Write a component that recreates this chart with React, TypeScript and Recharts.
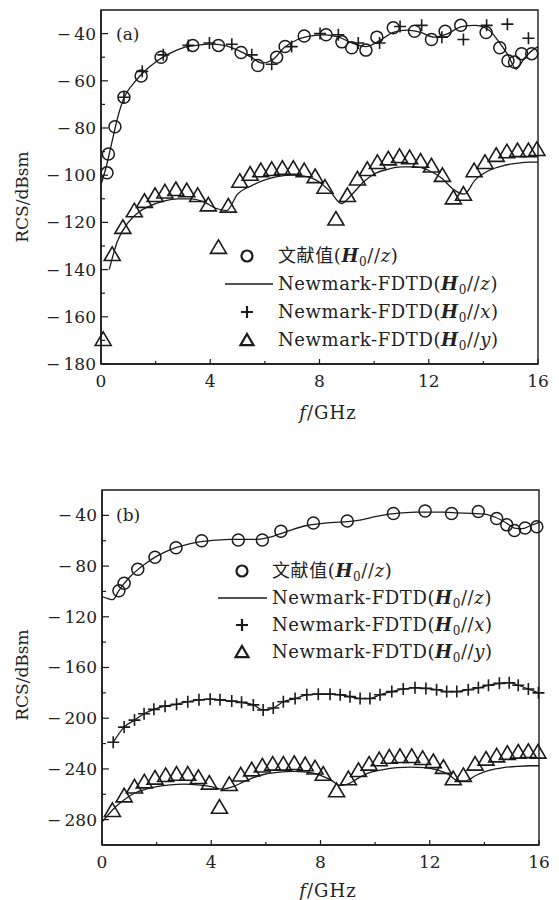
import React from 'react';
import { ComposedChart, Line, Scatter, XAxis, YAxis, ReferenceArea } from 'recharts';

const FONT = "'DejaVu Serif', 'Noto Sans CJK SC', serif";
const INK = '#1a1a1a';

// ---- panel (a) ----
const aRefFreq = [0.22, 0.27, 0.51, 0.84, 1.47, 2.2, 3.36, 4.3, 5.13, 5.74, 6.43, 6.74, 7.44, 8.24, 8.82, 9.18, 9.7, 10.1, 10.7, 11.48, 12.1, 12.6, 13.17, 14.1, 14.6, 14.9, 15.14, 15.4, 15.77];
const aRefRcs = [-99, -91, -79.5, -67, -58, -50, -45, -45, -48, -53.5, -50, -45.5, -41, -40.5, -43.5, -46, -47, -41.5, -37.5, -39, -42.5, -39, -36.5, -39.5, -46, -51.5, -52, -48.5, -48.5];

const aZFreq = [0, 0.2, 0.4, 0.6, 0.85, 1.2, 1.5, 2.0, 2.5, 3.0, 3.5, 4.0, 4.5, 5.0, 5.5, 5.9, 6.3, 6.7, 7.2, 7.7, 8.2, 8.7, 9.2, 9.7, 10.2, 10.7, 11.2, 11.7, 12.2, 12.7, 13.2, 13.7, 14.2, 14.6, 14.9, 15.2, 15.5, 15.8, 16];
const aZRcs = [-104, -96, -86, -76, -67, -61, -57, -52, -48.5, -46, -45, -44.5, -45, -47, -50, -52.5, -51, -46, -42.5, -41, -40.5, -41.5, -44, -45.5, -43, -39.5, -38.5, -39.5, -41.5, -40, -37, -36.5, -38.5, -44, -49, -55, -50.5, -47, -45.5];

const aXFreq = [0.84, 1.51, 2.28, 3.2, 3.97, 4.79, 5.52, 6.25, 6.98, 8.02, 8.69, 9.42, 10.2, 10.95, 11.74, 12.48, 13.27, 14.12, 14.88, 15.65];
const aXRcs = [-67, -56, -49, -45, -44, -44.5, -49, -53, -45.5, -40, -40.5, -44, -44, -37, -36.5, -41.5, -42.5, -36.5, -36, -42];

const aYFreq = [0.08, 0.41, 0.8, 1.22, 1.59, 1.98, 2.34, 2.74, 3.14, 3.54, 3.93, 4.3, 4.66, 5.08, 5.46, 5.85, 6.25, 6.64, 7.04, 7.44, 7.84, 8.2, 8.6, 9.02, 9.39, 9.75, 10.12, 10.52, 10.93, 11.3, 11.7, 12.1, 12.5, 12.9, 13.27, 13.66, 14.06, 14.47, 14.86, 15.25, 15.65, 15.96];
const aYRcs = [-170, -134, -122.5, -115.5, -111.5, -109, -107.5, -106.5, -107, -109, -113, -131, -113.5, -103, -100, -98.5, -98, -97.5, -97.5, -98.5, -101, -105.5, -119, -109, -102, -98, -95, -93.5, -92.5, -93, -94.5, -96.5, -100.5, -110, -108.5, -98.5, -95, -92, -90.5, -90, -90, -89.5];

const aYLineFreq = [0.3, 0.6, 1.0, 1.4, 1.8, 2.3, 2.8, 3.3, 3.8, 4.2, 4.6, 5.0, 5.5, 6.0, 6.5, 7.0, 7.5, 8.0, 8.4, 8.8, 9.2, 9.6, 10.0, 10.5, 11.0, 11.5, 12.0, 12.5, 12.9, 13.3, 13.7, 14.2, 14.7, 15.2, 15.7, 16];
const aYLineRcs = [-140, -128, -120, -115.5, -113, -111, -110, -110, -111.5, -114, -115, -108, -104.5, -102, -100.5, -100, -100.5, -103, -107, -112, -108, -103, -99.5, -97.5, -96.5, -96.5, -98, -101.5, -106, -108, -102, -98, -96, -95, -94.5, -94.5];

// ---- panel (b) ----
const bRefFreq = [0.62, 0.81, 1.31, 1.94, 2.71, 3.65, 4.99, 5.87, 6.55, 7.74, 8.98, 10.67, 11.83, 12.8, 13.78, 14.45, 14.82, 15.1, 15.49, 15.92];
const bRefRcs = [-99.5, -93.5, -82.5, -73, -65.5, -60, -59.5, -59.5, -52.5, -46, -44.5, -38.5, -36.5, -38.5, -37, -42.5, -47.5, -52, -50, -49];

const bZFreq = [0, 0.2, 0.4, 0.6, 0.8, 1.0, 1.3, 1.6, 1.9, 2.3, 2.7, 3.2, 3.7, 4.2, 4.7, 5.2, 5.7, 6.2, 6.6, 7.0, 7.5, 8.0, 8.5, 9.0, 9.5, 10.0, 10.5, 11.0, 11.5, 12.0, 12.5, 13.0, 13.5, 14.0, 14.4, 14.8, 15.1, 15.4, 15.7, 16];
const bZRcs = [-104, -105.5, -106.5, -100, -94, -89, -83, -78, -73.5, -69, -65.5, -62.5, -60.5, -59.5, -59, -59, -59, -57, -54, -51, -48, -46.5, -45.5, -45, -43.5, -41, -39, -38, -37.5, -37.5, -37.5, -38, -38.5, -39, -41.5, -46, -50, -50.5, -48, -45.5];

const bXFreq = [0.41, 0.81, 1.19, 1.54, 1.9, 2.31, 2.73, 3.14, 3.55, 3.96, 4.32, 4.75, 5.11, 5.54, 5.9, 6.27, 6.64, 7.07, 7.5, 7.92, 8.35, 8.72, 9.08, 9.45, 9.81, 10.18, 10.61, 11.03, 11.46, 11.86, 12.25, 12.62, 12.99, 13.41, 13.78, 14.15, 14.55, 14.91, 15.24, 15.61, 15.98];
const bXRcs = [-219, -207, -201.5, -196.5, -193, -190.5, -189, -187, -185.5, -185, -185.5, -186.5, -187.5, -189.5, -193.5, -192, -187, -184.5, -181.5, -181, -181, -181.5, -183, -184.5, -184.5, -181.5, -179, -177, -176, -176.5, -177.5, -179, -179, -177.5, -176, -174, -172.5, -172, -174, -177, -180];

const bYFreq = [0.38, 0.81, 1.19, 1.55, 1.94, 2.33, 2.73, 3.14, 3.53, 3.93, 4.3, 4.66, 5.08, 5.48, 5.87, 6.25, 6.64, 7.04, 7.44, 7.8, 8.1, 8.59, 9.02, 9.39, 9.78, 10.15, 10.52, 10.91, 11.34, 11.74, 12.13, 12.5, 12.86, 13.23, 13.66, 14.06, 14.45, 14.84, 15.24, 15.61, 15.96];
const bYRcs = [-273.5, -262, -255, -251, -248, -246, -245, -245, -247.5, -252, -271, -253, -245.5, -241.5, -238.5, -237, -237, -236.5, -237.5, -240, -245, -258, -248.5, -242, -237, -233.5, -231.5, -231, -231, -232.5, -235, -239.5, -248.5, -246, -237, -233, -230.5, -228.5, -227.5, -227, -227.5];

const bYLineFreq = [0, 0.4, 0.8, 1.2, 1.6, 2.0, 2.5, 3.0, 3.5, 4.0, 4.4, 4.8, 5.2, 5.6, 6.0, 6.5, 7.0, 7.5, 8.0, 8.4, 8.7, 9.0, 9.4, 9.8, 10.3, 10.8, 11.3, 11.8, 12.3, 12.7, 13.0, 13.3, 13.7, 14.2, 14.7, 15.2, 15.7, 16];
const bYLineRcs = [-282, -272, -264.5, -259, -256, -254, -252.5, -252, -252.5, -254, -256, -254, -250, -246.5, -244, -242.5, -242, -242.5, -245, -249, -253, -252, -247, -243, -240.5, -239, -238.5, -239, -241, -244.5, -249, -249.5, -245, -241, -239, -238, -237.5, -237.5];

// ---- axes ----
const xTicks = [0, 2, 4, 6, 8, 10, 12, 14, 16];
const xTickLabels = [0, 4, 8, 12, 16];
const aYTicks = [-180, -170, -160, -150, -140, -130, -120, -110, -100, -90, -80, -70, -60, -50, -40];
const aYTickLabels = [-180, -160, -140, -120, -100, -80, -60, -40];
const bYTicks = [-280, -260, -240, -220, -200, -180, -160, -140, -120, -100, -80, -60, -40];
const bYTickLabels = [-280, -240, -200, -160, -120, -80, -40];

const pts = (fs: number[], vs: number[]) => fs.map((f, i) => ({ f, v: vs[i] }));

const fmt = (v: number) => (v < 0 ? `\u2212\u2009${Math.abs(v)}` : `${v}`);

function Ring({ cx, cy, r = 6, w = 1.5 }: any) {
  return <circle cx={cx} cy={cy} r={r} fill="none" stroke={INK} strokeWidth={w} />;
}
function Cross({ cx, cy, s = 6, w = 1.6 }: any) {
  return <path d={`M${cx - s},${cy}h${2 * s}M${cx},${cy - s}v${2 * s}`} fill="none" stroke={INK} strokeWidth={w} />;
}
function Tri({ cx, cy, s = 8, w = 1.6 }: any) {
  const h = s * 1.7;
  return (
    <path
      d={`M${cx},${cy - h * 0.63}L${cx + s},${cy + h * 0.37}L${cx - s},${cy + h * 0.37}Z`}
      fill="none"
      stroke={INK}
      strokeWidth={w}
    />
  );
}

function makeYTick(labels: number[]) {
  return (p: any) => {
    const v = p.payload.value;
    const major = labels.includes(v);
    return (
      <g>
        <line x1={p.x} x2={p.x + (major ? 7 : 4)} y1={p.y} y2={p.y} stroke={INK} strokeWidth={1.2} />
        {major && (
          <text x={p.x - 5} y={p.y} dy="0.35em" textAnchor="end" fontFamily={FONT} fontSize={17} fill="#222">
            {fmt(v)}
          </text>
        )}
      </g>
    );
  };
}

function makeXTick(labels: number[]) {
  return (p: any) => {
    const v = p.payload.value;
    const major = labels.includes(v);
    return (
      <g>
        <line x1={p.x} x2={p.x} y1={p.y} y2={p.y - (major ? 5 : 3)} stroke={INK} strokeWidth={1.2} />
        {major && (
          <text x={p.x} y={p.y + 17} dy="0.35em" textAnchor="middle" fontFamily={FONT} fontSize={17} fill="#222">
            {v}
          </text>
        )}
      </g>
    );
  };
}

function XTitle({ tx, ty }: any) {
  return (
    <text x={tx} y={ty} dy="0.35em" textAnchor="middle" fontFamily={FONT} fontSize={18} fill="#222" letterSpacing={1}>
      <tspan fontStyle="italic">f</tspan>/GHz
    </text>
  );
}
function YTitle({ tx, ty }: any) {
  return (
    <text x={tx} y={ty} dy="0.35em" textAnchor="middle" transform={`rotate(-90 ${tx} ${ty})`} fontFamily={FONT} fontSize={17} fill="#222">
      RCS/dBsm
    </text>
  );
}

function H0({ axis }: { axis: string }) {
  return (
    <>
      (<b><i>H</i></b>
      <sub style={{ fontSize: 12, lineHeight: 0, verticalAlign: '-0.3em' }}>0</sub>//<i>{axis}</i>)
    </>
  );
}

function LegendBlock({ top, iconX, lineX, textX, rows }: any) {
  const icons = [
    <Ring cx={iconX - 200} cy={10} r={5.5} w={2.2} />,
    <line x1={lineX[0] - 200} x2={lineX[1] - 200} y1={10} y2={10} stroke={INK} strokeWidth={1.3} />,
    <Cross cx={iconX - 200} cy={10} s={6} w={2.2} />,
    <Tri cx={iconX - 200} cy={11} s={6.5} w={2.2} />,
  ];
  const labels = [
    <>文献值<H0 axis="z" /></>,
    <>Newmark-FDTD<H0 axis="z" /></>,
    <>Newmark-FDTD<H0 axis="x" /></>,
    <>Newmark-FDTD<H0 axis="y" /></>,
  ];
  return (
    <>
      {rows.map((y: number, i: number) => (
        <React.Fragment key={i}>
          <svg style={{ position: 'absolute', left: 200, top: top + y - 10 }} width={80} height={20}>
            {icons[i]}
          </svg>
          <div
            style={{
              position: 'absolute',
              left: textX,
              top: top + y - 12,
              height: 24,
              lineHeight: '24px',
              fontFamily: FONT,
              fontSize: 18,
              letterSpacing: 0.6,
              color: '#222',
              whiteSpace: 'nowrap',
            }}
          >
            {labels[i]}
          </div>
        </React.Fragment>
      ))}
    </>
  );
}

function Panel({ top, margin, xH, yW, yDomain, yTicks, yLabels, tag, tagY, xt, yt, refPts, zPts, xPts, yPts, yLinePts, xWithLine }: any) {
  return (
    <div style={{ position: 'absolute', left: 0, top }}>
      <ComposedChart width={559} height={450} margin={margin}>
        <XAxis
          dataKey="f"
          type="number"
          domain={[0, 16]}
          ticks={xTicks}
          height={xH}
          tickSize={0}
          tickMargin={0}
          tick={makeXTick(xTickLabels)}
          tickLine={false}
          axisLine={{ stroke: INK, strokeWidth: 1.5 }}
          label={<XTitle tx={xt[0]} ty={xt[1]} />}
        />
        <YAxis
          dataKey="v"
          type="number"
          domain={yDomain}
          ticks={yTicks}
          width={yW}
          tickSize={0}
          tickMargin={0}
          tick={makeYTick(yLabels)}
          tickLine={false}
          axisLine={{ stroke: INK, strokeWidth: 1.5 }}
          label={<YTitle tx={yt[0]} ty={yt[1]} />}
        />
        <ReferenceArea x1={0} x2={16} y1={yDomain[0]} y2={yDomain[1]} fill="none" stroke={INK} strokeWidth={1.4} />
        <Line data={zPts} dataKey="v" type="monotone" stroke={INK} strokeWidth={1.3} dot={false} isAnimationActive={false} />
        <Line data={yLinePts} dataKey="v" type="monotone" stroke={INK} strokeWidth={1.3} dot={false} isAnimationActive={false} />
        {xWithLine && (
          <Line data={xPts} dataKey="v" type="monotone" stroke={INK} strokeWidth={1.3} dot={false} isAnimationActive={false} />
        )}
        <Scatter data={refPts} dataKey="v" shape={(p: any) => <Ring cx={p.cx} cy={p.cy} />} isAnimationActive={false} />
        <Scatter data={xPts} dataKey="v" shape={(p: any) => <Cross cx={p.cx} cy={p.cy} />} isAnimationActive={false} />
        <Scatter data={yPts} dataKey="v" shape={(p: any) => <Tri cx={p.cx} cy={p.cy} />} isAnimationActive={false} />
      </ComposedChart>
      <div style={{ position: 'absolute', left: 116, top: tagY - 12, fontFamily: FONT, fontSize: 17, color: '#222', lineHeight: '24px' }}>
        {tag}
      </div>
    </div>
  );
}

export default function App() {
  return (
    <div style={{ position: 'absolute', left: 0, top: 0, width: 559, height: 900, background: '#fff' }}>
      <Panel
        top={0}
        margin={{ top: 10, right: 21, left: 0, bottom: 0 }}
        xH={86}
        yW={101}
        yDomain={[-180, -30]}
        yTicks={aYTicks}
        yLabels={aYTickLabels}
        tag="(a)"
        tagY={34}
        xt={[328, 413]}
        yt={[22, 197]}
        refPts={pts(aRefFreq, aRefRcs)}
        zPts={pts(aZFreq, aZRcs)}
        xPts={pts(aXFreq, aXRcs)}
        yPts={pts(aYFreq, aYRcs)}
        yLinePts={pts(aYLineFreq, aYLineRcs)}
        xWithLine={false}
      />
      <LegendBlock top={0} iconX={247} lineX={[225, 273]} textX={278} rows={[256, 284, 312, 340]} />
      <Panel
        top={450}
        margin={{ top: 40, right: 20, left: 0, bottom: 0 }}
        xH={55}
        yW={102}
        yDomain={[-300, -20]}
        yTicks={bYTicks}
        yLabels={bYTickLabels}
        tag="(b)"
        tagY={65}
        xt={[328, 441]}
        yt={[22, 225]}
        refPts={pts(bRefFreq, bRefRcs)}
        zPts={pts(bZFreq, bZRcs)}
        xPts={pts(bXFreq, bXRcs)}
        yPts={pts(bYFreq, bYRcs)}
        yLinePts={pts(bYLineFreq, bYLineRcs)}
        xWithLine={true}
      />
      <LegendBlock top={450} iconX={242} lineX={[218, 267]} textX={272} rows={[121, 148, 175, 202]} />
    </div>
  );
}
